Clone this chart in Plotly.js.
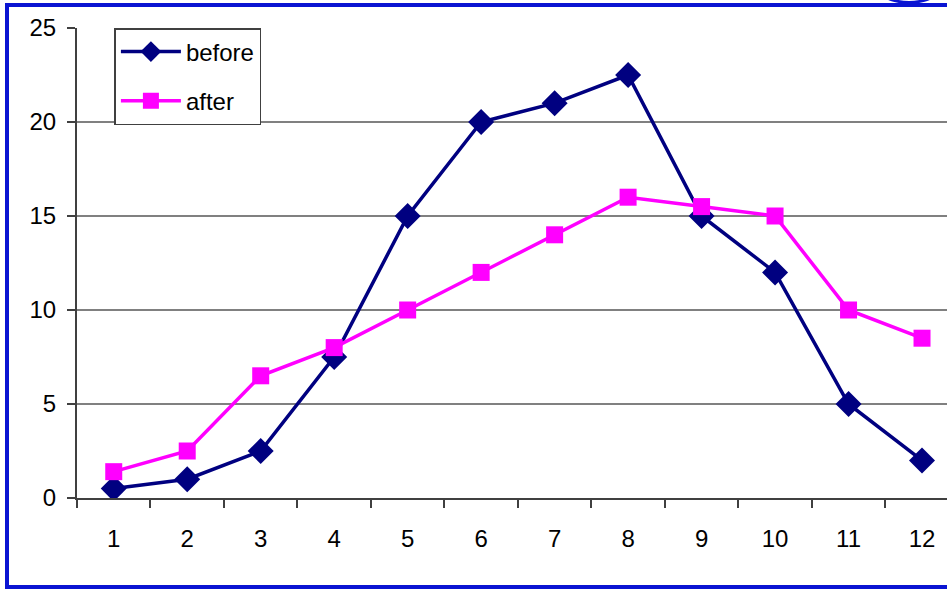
<!DOCTYPE html>
<html>
<head>
<meta charset="utf-8">
<script src="https://cdn.plot.ly/plotly-3.0.1.min.js"></script>
<style>
  html, body { margin: 0; padding: 0; background: #ffffff; }
  #wrap { position: relative; width: 947px; height: 589px; overflow: hidden; }
  #chart { position: absolute; left: 0; top: 0; width: 947px; height: 589px; }
  #frame {
    position: absolute; left: 5px; top: 3px; width: 960px; height: 578px;
    border: 4px solid #0a14d2; pointer-events: none;
  }
  #badge {
    position: absolute; left: 868px; top: -54px; width: 76px; height: 52px;
    border: 3px solid #0a14d2; border-radius: 50%; pointer-events: none;
  }
</style>
</head>
<body>
<div id="wrap">
  <div id="chart"></div>
  <div id="frame"></div>
  <div id="badge"></div>
</div>
<script>
// Monthly readings, before and after
const months = [1, 2, 3, 4, 5, 6, 7, 8, 9, 10, 11, 12];
const monthLabels = ['1', '2', '3', '4', '5', '6', '7', '8', '9', '10', '11', '12'];
const before = [0.5, 1, 2.5, 7.5, 15, 20, 21, 22.5, 15, 12, 5, 2];
const after = [1.4, 2.5, 6.5, 8, 10, 12, 14, 16, 15.5, 15, 10, 8.5];
const yTicks = [0, 5, 10, 15, 20, 25];

const font = 'Liberation Sans, Arial, sans-serif';

const traces = [
  {
    name: 'before', legendgroup: 'b', x: months, y: before, type: 'scatter', mode: 'lines+markers',
    line: { color: '#000080', width: 3.5 },
    marker: { symbol: 'diamond', size: 20, color: '#000080' }
  },
  {
    name: 'after', legendgroup: 'a', x: months, y: after, type: 'scatter', mode: 'lines+markers',
    line: { color: '#ff00ff', width: 3.5 },
    marker: { symbol: 'square', size: 17, color: '#ff00ff' }
  }
];

const layout = {
  width: 947, height: 589,
  paper_bgcolor: '#ffffff', plot_bgcolor: '#ffffff',
  margin: { l: 77, r: 0, t: 28, b: 91 },
  font: { family: font, size: 24, color: '#000000' },
  showlegend: true,
  legend: {
    x: 0.043, y: 1, xanchor: 'left', yanchor: 'top',
    bgcolor: '#ffffff', bordercolor: '#404040', borderwidth: 1.5,
    font: { family: font, size: 24, color: '#000000' },
    itemwidth: 60, tracegroupgap: 15
  },
  xaxis: {
    range: [0.5, 12.34], fixedrange: true,
    tickmode: 'array', tickvals: months, ticktext: monthLabels,
    ticks: '', showgrid: false, zeroline: false,
    showline: true, linecolor: '#404040', linewidth: 2,
    tickfont: { family: font, size: 24, color: '#000000' },
    ticklabelstandoff: 18,
    minor: { tick0: 0.5, dtick: 1, ticks: 'outside', ticklen: 8, tickcolor: '#404040', tickwidth: 2, showgrid: false }
  },
  yaxis: {
    range: [0, 25], fixedrange: true,
    tickmode: 'array', tickvals: yTicks,
    ticks: 'outside', ticklen: 8, tickcolor: '#404040', tickwidth: 2,
    showgrid: true, gridcolor: '#808080', gridwidth: 2,
    zeroline: false, showline: true, linecolor: '#404040', linewidth: 2,
    tickfont: { family: font, size: 24, color: '#000000' },
    ticklabelstandoff: 6
  }
};

Plotly.newPlot('chart', traces, layout, { displayModeBar: false, staticPlot: true });
</script>
</body>
</html>
